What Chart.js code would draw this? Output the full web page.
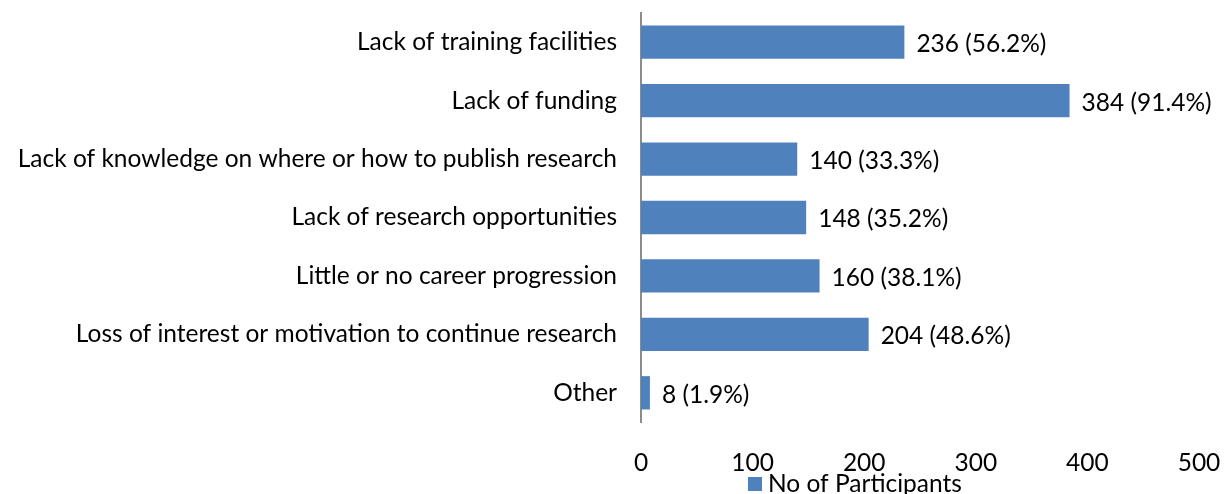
<!DOCTYPE html>
<html><head><meta charset="utf-8">
<script src="https://cdn.jsdelivr.net/npm/chart.js@4"></script>
<style>html,body{margin:0;padding:0;background:#fff}#wrap{width:1226px;height:494px}</style>
</head><body><div id="wrap"><canvas id="c" width="1226" height="494"></canvas></div>
<script>
const categories = ["Lack of training facilities","Lack of funding","Lack of knowledge on where or how to publish research","Lack of research opportunities","Little or no career progression","Loss of interest or motivation to continue research","Other"];
const participants = [236,384,140,148,160,204,8];
const percents = [56.2,91.4,33.3,35.2,38.1,48.6,1.9];
const seriesName = "No of Participants";
const FONT = "Lato";
const FS = 24.5;
const labelPlugin = {
  id:'valLabels',
  afterDatasetsDraw(chart){
    const ctx = chart.ctx; const meta = chart.getDatasetMeta(0);
    ctx.save(); ctx.font = FS + "px " + FONT; ctx.fillStyle = "#000"; ctx.textBaseline = "middle"; ctx.textAlign = "left";
    meta.data.forEach((bar,i)=>{ ctx.fillText(participants[i] + " (" + percents[i].toFixed(1) + "%)", bar.x + 12, bar.y + 2); });
    ctx.restore();
  },
  afterDraw(chart){
    const ctx = chart.ctx; ctx.save();
    ctx.font = FS + "px " + FONT; ctx.textBaseline = "middle"; ctx.textAlign = "left";
    const y = 484, x = 748;
    ctx.fillStyle = "#4F81BD"; ctx.fillRect(x, y-7, 14, 14);
    ctx.fillStyle = "#000"; ctx.fillText(chart.data.datasets[0].label, x + 20, y);
    ctx.restore();
  }
};
new Chart(document.getElementById('c'), {
  type:'bar',
  data:{ labels:categories, datasets:[{ label:seriesName, data:participants, backgroundColor:"#4F81BD", borderWidth:0, categoryPercentage:1, barPercentage:0.57 }]},
  options:{
    indexAxis:'y', responsive:false, animation:false,
    layout:{ padding:{ top:13, bottom:14, left:0, right:27 } },
    plugins:{ legend:{ display:false }, tooltip:{ enabled:false } },
    scales:{
      x:{ min:0, max:500, ticks:{ stepSize:100, color:"#000", font:{ family:FONT, size:FS }, padding:26 }, grid:{ display:false, drawTicks:false }, border:{ display:false },
          afterFit(s){ s.paddingLeft = 0; s.paddingRight = 0; s.height = 58; } },
      y:{ ticks:{ color:"#000", font:{ family:FONT, size:FS }, padding:24 }, grid:{ display:false, drawTicks:false }, border:{ display:true, color:"#8c8c8c", width:2 },
          afterFit(s){ s.width = 641; s.paddingTop = 0; s.paddingBottom = 0; } }
    }
  },
  plugins:[labelPlugin]
});
</script></body></html>
